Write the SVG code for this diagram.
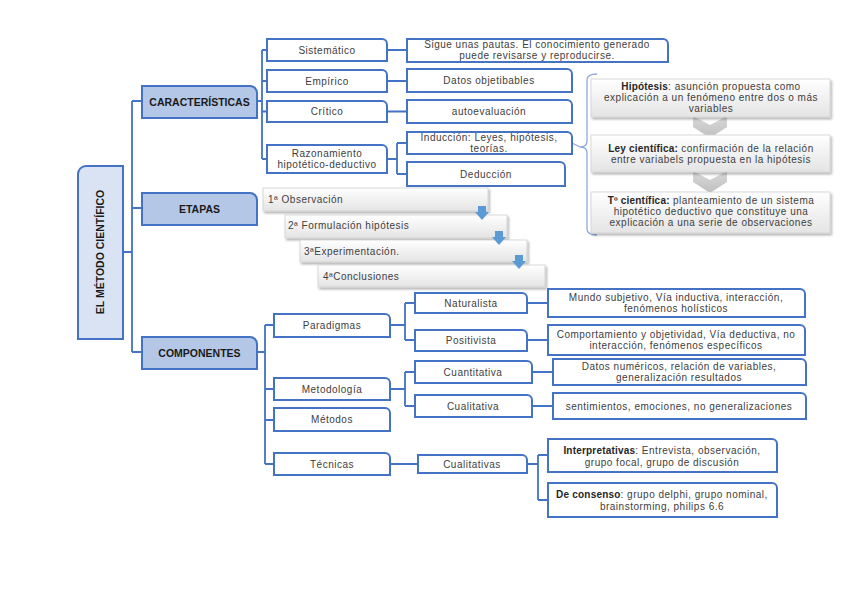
<svg xmlns="http://www.w3.org/2000/svg" width="848" height="599" viewBox="0 0 848 599">
<defs>
<linearGradient id="gg" x1="0" y1="0" x2="0" y2="1"><stop offset="0" stop-color="#ffffff"/><stop offset="1" stop-color="#e4e4e4"/></linearGradient>
<linearGradient id="cg" x1="0" y1="0" x2="0" y2="1"><stop offset="0" stop-color="#d9d9d9"/><stop offset="1" stop-color="#bfbfbf"/></linearGradient>
<filter id="sh" x="-5%" y="-20%" width="112%" height="150%"><feDropShadow dx="1.5" dy="2" stdDeviation="1.2" flood-color="#000" flood-opacity="0.3"/></filter>
</defs>
<style>
.b{fill:#fff;stroke:#4472c4;stroke-width:2}
.cat{fill:#b4c7e7;stroke:#4472c4;stroke-width:2}
.main{fill:#dae3f3;stroke:#4472c4;stroke-width:2}
.g{fill:url(#gg);stroke:#d0d0d0;stroke-width:0.8;filter:url(#sh)}
.ch{fill:url(#cg)}
.ar{fill:#5b9bd5}
.c{fill:none;stroke:#4472c4;stroke-width:1.8}
.br{fill:none;stroke:#8eaadb;stroke-width:1.3}
text{font-family:"Liberation Sans",Arial,sans-serif;font-size:10px;fill:#404040;letter-spacing:0.5px}
.m{text-anchor:middle}
.ct{font-weight:bold;font-size:10.5px;fill:#1a1a1a;letter-spacing:0;text-anchor:middle}
.bd{font-weight:bold;fill:#262626;letter-spacing:0.2px}
</style>
<g id="connectors">
<path class="c" d="M123,252 H132 M132,101 V352 M132,101 H142 M132,208 H142 M132,352 H142"/>
<path class="c" d="M257,101 H262 M262,50 V159 M262,50 H267 M262,81 H267 M262,111.5 H267 M262,159 H267"/>
<path class="c" d="M387,50 H407 M387,81 H407 M387,111.5 H407 M387,159 H397 M397,143 V174 M397,143 H407 M397,174 H407"/>
<path class="c" d="M572,143 L580,147" style="stroke:#8eaadb;stroke-width:1.3"/>
<path class="br" d="M597,74 Q587,74 587,80 V141 Q587,147 580,147 Q587,147 587,153 V229 Q587,235 597,235"/>
<path class="c" d="M257,352 H265 M265,325 V464 M265,325 H274 M265,389 H274 M265,420 H274 M265,464 H274"/>
<path class="c" d="M390,325 H405 M405,303 V340 M405,303 H415 M405,340 H415"/>
<path class="c" d="M390,389 H405 M405,372 V406 M405,372 H415 M405,406 H415"/>
<path class="c" d="M527,303 H548 M527,340 H548 M532,372 H553 M532,406 H553"/>
<path class="c" d="M390,464 H418 M527,464 H538 M538,455 V500 M538,455 H548 M538,500 H548"/>
</g>
<g id="n-main"><path class="main" d="M86,166 H123 V339 H78 V174 A8,8 0 0 1 86,166 Z"/><text class="ct" transform="translate(104,252) rotate(-90)">EL MÉTODO CIENTÍFICO</text></g>
<g id="n-caract"><path class="cat" d="M142,86 H250 A7,7 0 0 1 257,93 V118 H142 Z"/><text class="ct" x="199.5" y="106">CARACTERÍSTICAS</text></g>
<g id="n-etapas"><path class="cat" d="M142,193 H250 A7,7 0 0 1 257,200 V225 H142 Z"/><text class="ct" x="199.5" y="213">ETAPAS</text></g>
<g id="n-comp"><path class="cat" d="M142,337 H250 A7,7 0 0 1 257,344 V369 H142 Z"/><text class="ct" x="199.5" y="357">COMPONENTES</text></g>
<g id="n-sist"><path class="b" d="M267,39 H382 A5,5 0 0 1 387,44 V61 H267 Z"/><text class="m" x="327" y="53.5">Sistemático</text></g>
<g id="n-emp"><path class="b" d="M267,70 H382 A5,5 0 0 1 387,75 V92 H267 Z"/><text class="m" x="327" y="84.5">Empírico</text></g>
<g id="n-crit"><path class="b" d="M267,101 H382 A5,5 0 0 1 387,106 V122 H267 Z"/><text class="m" x="327" y="115">Crítico</text></g>
<g id="n-raz"><path class="b" d="M267,145 H382 A5,5 0 0 1 387,150 V173 H267 Z"/><text class="m" x="327" y="156.5">Razonamiento</text><text class="m" x="327" y="168">hipotético-deductivo</text></g>
<g id="n-sigue"><path class="b" d="M407,39 H663 A5,5 0 0 1 668,44 V62 H407 Z"/><text class="m" x="537" y="47.5">Sigue unas pautas. El conocimiento generado</text><text class="m" x="537" y="58.5">puede revisarse y reproducirse.</text></g>
<g id="n-datos"><path class="b" d="M407,69 H567 A5,5 0 0 1 572,74 V92 H407 Z"/><text class="m" x="489" y="84">Datos objetibables</text></g>
<g id="n-auto"><path class="b" d="M407,100 H567 A5,5 0 0 1 572,105 V123 H407 Z"/><text class="m" x="489" y="115">autoevaluación</text></g>
<g id="n-ind"><path class="b" d="M407,132 H567 A5,5 0 0 1 572,137 V154 H407 Z"/><text class="m" x="489" y="140.5">Inducción: Leyes, hipótesis,</text><text class="m" x="489" y="151.5">teorías.</text></g>
<g id="n-ded"><path class="b" d="M407,162 H560 A5,5 0 0 1 565,167 V186 H407 Z"/><text class="m" x="486" y="177.5">Deducción</text></g>
<g id="n-hip-chain">
<polygon class="ch" points="693,116 710,125 727,116 727,127 710,138 693,127"/>
<polygon class="ch" points="693,171 710,180 727,171 727,182 710,193 693,182"/>
<rect class="g" x="591" y="79" width="239" height="38"/>
<text class="m" x="711" y="90"><tspan class="bd">Hipótesis</tspan>: asunción propuesta como</text>
<text class="m" x="711" y="101">explicación a un fenómeno entre dos o más</text>
<text class="m" x="711" y="112">variables</text>
<rect class="g" x="591" y="135" width="239" height="37"/>
<text class="m" x="711" y="152"><tspan class="bd">Ley científica:</tspan> confirmación de la relación</text>
<text class="m" x="711" y="163">entre variabels propuesta en la hipótesis</text>
<rect class="g" x="591" y="192" width="239" height="41"/>
<text class="m" x="711" y="204"><tspan class="bd">Tº científica:</tspan> planteamiento de un sistema</text>
<text class="m" x="711" y="215">hipotético deductivo que constituye una</text>
<text class="m" x="711" y="226">explicación a una serie de observaciones</text>
</g>
<g id="n-etapas-steps">
<rect class="g" x="263" y="188" width="225" height="23"/>
<text x="268" y="202.5">1ª Observación</text>
<rect class="g" x="285" y="215" width="222" height="23"/>
<text x="288" y="229">2ª Formulación hipótesis</text>
<rect class="g" x="300" y="240" width="227" height="22"/>
<text x="304" y="254.5">3ªExperimentación.</text>
<rect class="g" x="318" y="265" width="227" height="22"/>
<text x="323" y="279.5">4ªConclusiones</text>
<path class="ar" d="M478,206 H486 V212 H489 L482,220 L475,212 H478 Z"/>
<path class="ar" d="M495,231 H503 V237 H506 L499,245 L492,237 H495 Z"/>
<path class="ar" d="M515,255 H523 V261 H526 L519,269 L512,261 H515 Z"/>
</g>
<g id="n-parad"><path class="b" d="M274,314 H385 A5,5 0 0 1 390,319 V337 H274 Z"/><text class="m" x="332" y="328.5">Paradigmas</text></g>
<g id="n-metod"><path class="b" d="M274,378 H385 A5,5 0 0 1 390,383 V400 H274 Z"/><text class="m" x="332" y="392.5">Metodología</text></g>
<g id="n-metodos"><path class="b" d="M274,408 H385 A5,5 0 0 1 390,413 V431 H274 Z"/><text class="m" x="332" y="423">Métodos</text></g>
<g id="n-tec"><path class="b" d="M274,453 H385 A5,5 0 0 1 390,458 V475 H274 Z"/><text class="m" x="332" y="467.5">Técnicas</text></g>
<g id="n-nat"><path class="b" d="M415,293 H522 A5,5 0 0 1 527,298 V313 H415 Z"/><text class="m" x="471" y="306.5">Naturalista</text></g>
<g id="n-pos"><path class="b" d="M415,330 H522 A5,5 0 0 1 527,335 V351 H415 Z"/><text class="m" x="471" y="344">Positivista</text></g>
<g id="n-cuant"><path class="b" d="M415,361 H527 A5,5 0 0 1 532,366 V383 H415 Z"/><text class="m" x="473" y="375.5">Cuantitativa</text></g>
<g id="n-cual"><path class="b" d="M415,395 H527 A5,5 0 0 1 532,400 V417 H415 Z"/><text class="m" x="473" y="409.5">Cualitativa</text></g>
<g id="n-mundo"><path class="b" d="M548,289 H800 A5,5 0 0 1 805,294 V317 H548 Z"/><text class="m" x="676" y="301">Mundo subjetivo, Vía inductiva, interacción,</text><text class="m" x="676" y="312">fenómenos holísticos</text></g>
<g id="n-comport"><path class="b" d="M548,325 H800 A5,5 0 0 1 805,330 V355 H548 Z"/><text class="m" x="676" y="338">Comportamiento y objetividad, Vía deductiva, no</text><text class="m" x="676" y="349">interacción, fenómenos específicos</text></g>
<g id="n-datosnum"><path class="b" d="M553,359 H801 A5,5 0 0 1 806,364 V385 H553 Z"/><text class="m" x="679" y="369.5">Datos numéricos, relación de variables,</text><text class="m" x="679" y="381">generalización resultados</text></g>
<g id="n-sent"><path class="b" d="M553,393 H801 A5,5 0 0 1 806,398 V419 H553 Z"/><text class="m" x="679" y="409.5">sentimientos, emociones, no generalizaciones</text></g>
<g id="n-cuals"><path class="b" d="M418,455 H522 A5,5 0 0 1 527,460 V473 H418 Z"/><text class="m" x="472" y="467.5">Cualitativas</text></g>
<g id="n-interp"><path class="b" d="M548,439 H772 A5,5 0 0 1 777,444 V472 H548 Z"/><text class="m" x="662" y="453.5"><tspan class="bd">Interpretativas</tspan>: Entrevista, observación,</text><text class="m" x="662" y="465.5">grupo focal, grupo de discusión</text></g>
<g id="n-cons"><path class="b" d="M548,483 H772 A5,5 0 0 1 777,488 V517 H548 Z"/><text class="m" x="662" y="497.5"><tspan class="bd">De consenso</tspan>: grupo delphi, grupo nominal,</text><text class="m" x="662" y="509.5">brainstorming, philips 6.6</text></g>
</svg>
